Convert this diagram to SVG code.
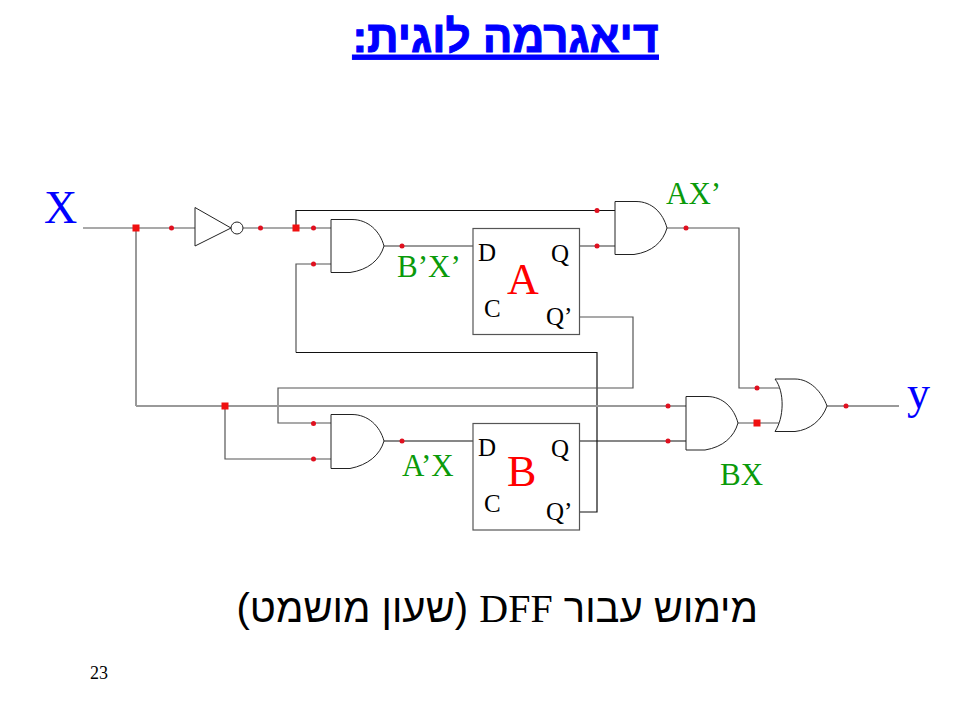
<svg xmlns="http://www.w3.org/2000/svg" width="960" height="720" viewBox="0 0 960 720">
<style>
.w{fill:none;stroke:#555;stroke-width:1.2}
.k{fill:none;stroke:#111;stroke-width:1.2}
.g{fill:none;stroke:#999;stroke-width:2}
.gate{fill:#fff;stroke:#222;stroke-width:1}
.ff{fill:#fff;stroke:#555;stroke-width:1.2}
.d{fill:#e0101f}
.j{fill:#f01010}
.t{font-family:"Liberation Serif",serif}
.pin{font-size:25px;fill:#000}
.lab{font-size:31px;fill:#0a9a0a}
.big{font-size:44px;fill:#f00}
.io{font-size:46px;fill:#00f}
</style>
<rect width="960" height="720" fill="#fff"/>
<text id="title" x="658.500" y="52" direction="rtl" font-family="'Liberation Sans',sans-serif" font-weight="bold" font-size="44" fill="#00f" stroke="#00f" stroke-width="1" text-decoration="underline">דיאגרמה לוגית:</text>
<g id="connectors">
<path class="w" d="M83 228H195"/>
<path class="w" d="M136 228V406"/>
<path class="w" d="M243 228H331"/>
<path class="k" d="M296 228V210.500H615"/>
<path class="w" d="M331 264H296V352.500"/>
<path class="k" d="M296 352.500H597V512H579"/>
<path class="g" d="M384 246H473"/>
<path class="g" d="M579 246H615"/>
<path class="w" d="M667 228H739V388H780"/>
<path class="w" d="M579 317H633V388H278V423H331"/>
<path class="g" d="M136 406H687"/>
<path class="w" d="M225 406V459H331"/>
<path class="k" d="M384 441H473"/>
<path class="k" d="M579 441H687"/>
<path class="w" d="M738 423H780"/>
<path class="g" d="M827 406H899"/>
</g>
<g id="dots">
<rect class="j" x="132.500" y="224.500" width="7" height="7"/>
<rect class="j" x="292.500" y="224.500" width="7" height="7"/>
<rect class="j" x="221.500" y="402.500" width="7" height="7"/>
<rect class="j" x="753.500" y="419.500" width="7" height="7"/>
<circle class="d" cx="171.500" cy="228" r="2.500"/>
<circle class="d" cx="260.500" cy="228" r="2.500"/>
<circle class="d" cx="313.500" cy="228" r="2.500"/>
<circle class="d" cx="313.500" cy="264" r="2.500"/>
<circle class="d" cx="402" cy="246" r="2.500"/>
<circle class="d" cx="597" cy="210.500" r="2.500"/>
<circle class="d" cx="597" cy="246" r="2.500"/>
<circle class="d" cx="686" cy="228" r="2.500"/>
<circle class="d" cx="757" cy="388" r="2.500"/>
<circle class="d" cx="313.500" cy="423.500" r="2.500"/>
<circle class="d" cx="313.500" cy="459" r="2.500"/>
<circle class="d" cx="402" cy="441" r="2.500"/>
<circle class="d" cx="668" cy="406" r="2.500"/>
<circle class="d" cx="668" cy="441" r="2.500"/>
<circle class="d" cx="846" cy="406" r="2.500"/>
</g>
<g id="inverter">
<path class="gate" d="M195 207.500V246L231 228Z"/>
<circle class="gate" cx="237" cy="228" r="6"/>
</g>
<g id="and-bx"><path class="gate" d="M331 219.500H352C368 219.500 380 231 384 246C380 260 368 270 350 272.500H331Z"/></g>
<g id="and-ax"><path class="gate" d="M615 201.500H636C652 201.500 663 213 667 228C663 242 652 252 634 254.500H615Z"/></g>
<g id="and-abx"><path class="gate" d="M331 414.500H352C368 414.500 380 426 384 441C380 455 368 465 350 468.500H331Z"/></g>
<g id="and-bxx"><path class="gate" d="M686 396.500H707C723 396.500 734 408 738 423C734 437 723 447 705 450H686Z"/></g>
<g id="or-y"><path class="gate" d="M775 379H795C810 379 822 392 827 406C822 420 810 430 795 431.500H775C784 418 785 392 775 379Z"/></g>
<g id="ff-a">
<rect class="ff" x="473" y="228.500" width="106.500" height="106"/>
<text class="t pin" x="478" y="261">D</text>
<text class="t pin" x="551" y="262">Q</text>
<text class="t pin" x="484" y="317">C</text>
<text class="t pin" x="546" y="325">Q’</text>
<text class="t big" x="507" y="294">A</text>
</g>
<g id="ff-b">
<rect class="ff" x="473" y="423.500" width="106.500" height="106.500"/>
<text class="t pin" x="478" y="456">D</text>
<text class="t pin" x="551" y="457">Q</text>
<text class="t pin" x="484" y="512">C</text>
<text class="t pin" x="546" y="520">Q’</text>
<text class="t big" x="507" y="486">B</text>
</g>
<text class="t io" x="44" y="223">X</text>
<text class="t io" x="907" y="408">y</text>
<text class="t lab" x="666" y="204">AX’</text>
<text class="t lab" x="397" y="277">B’X’</text>
<text class="t lab" x="402" y="476">A’X</text>
<text class="t lab" x="720" y="485">BX</text>
<text id="caption" x="758" y="622" direction="rtl" font-family="'Liberation Sans',sans-serif" font-size="40" fill="#000">מימוש עבור <tspan font-family="'Liberation Serif',serif">DFF</tspan> (שעון מושמט)</text>
<text class="t" x="90" y="679" font-size="18" fill="#000">23</text>
</svg>
